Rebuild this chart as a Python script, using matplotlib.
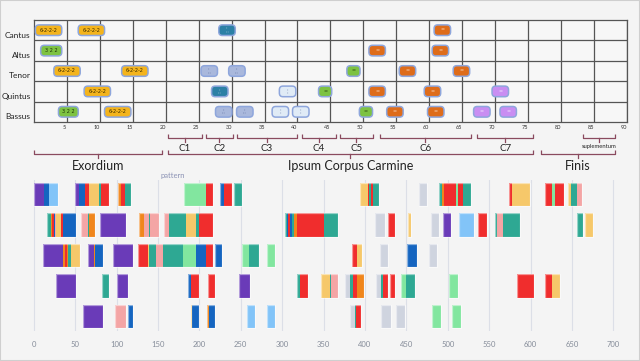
import numpy as np
import matplotlib
matplotlib.use("Agg")
import matplotlib.pyplot as plt
import matplotlib.transforms as mtrans
from matplotlib.patches import FancyBboxPatch, Rectangle

plt.rcParams["font.family"] = ["Lato", "DejaVu Sans"]

# ---- top chart: voices x measures ----
VOICES = ["Cantus", "Altus", "Tenor", "Quintus", "Bassus"]
MEAS_TICKS = list(range(5, 95, 5))

# boxes: voice row, centre measure, width, kind
BOX_ROW = [0, 0, 0, 0,
           1, 1, 1,
           2, 2, 2, 2, 2, 2, 2,
           3, 3, 3, 3, 3, 3, 3,
           4, 4, 4, 4, 4, 4, 4, 4, 4, 4, 4]
BOX_X = [2.2, 8.7, 29.3, 62.0,
         2.6, 52.1, 61.7,
         5.0, 15.3, 26.6, 30.8, 48.5, 56.7, 64.9,
         9.6, 28.2, 38.5, 44.2, 52.1, 60.5, 70.8,
         5.2, 12.7, 28.8, 32.0, 37.4, 40.5, 50.4, 54.8, 61.0, 68.0, 72.0]
BOX_W = [4, 4, 2.5, 2.5,
         3.2, 2.5, 2.5,
         4, 4, 2.5, 2.5, 2.0, 2.5, 2.5,
         4, 2.5, 2.5, 2.0, 2.5, 2.5, 2.5,
         3.0, 4, 2.5, 2.5, 2.5, 2.5, 2.0, 2.5, 2.5, 2.5, 2.5]
BOX_KIND = ["y6", "y6", "teal", "or",
            "g3", "or", "or",
            "y6", "y6", "lbg", "lbg", "gs", "or", "or",
            "y6", "teal", "vlb", "gs", "or", "or", "pu",
            "g3", "y6", "lbg", "lbg", "vlb", "vlb", "gs", "or", "or", "pu", "pu"]
KIND_STYLE = {  # face, text, text colour, size
    "y6": ("#f4b41c", "6-2-2-2", "#3a2a00", 3.6),
    "g3": ("#7dc242", "3 2 2", "#1e330a", 3.6),
    "teal": ("#2c80a5", "::\n:::", "#e6f2f8", 2.6),
    "lbg": ("#a9b8dc", "::\n:::", "#3d4f86", 2.6),
    "vlb": ("#e0ebf6", "::\n::", "#3d4f86", 2.6),
    "gs": ("#7dc242", "=", "#2d4a12", 3.5),
    "or": ("#de6c1a", "=", "#f8d8bf", 3.5),
    "pu": ("#c98ef2", "=", "#f3e6ff", 3.5),
}

# section brackets (measures)
SEC1 = [("C1", 20.3, 25.5), ("C2", 26.1, 30.2), ("C3", 30.8, 39.9), ("C4", 40.7, 45.8),
        ("C5", 46.4, 51.5), ("C6", 52.5, 66.3), ("C7", 67.3, 75.8)]
SUPL = ("suplementum", 83.4, 88.2)
SEC2 = [("Exordium", 0.0, 19.4), ("Ipsum Corpus Carmine", 20.3, 75.8), ("Finis", 77.0, 88.2)]

# ---- bottom chart: segments (start, end, colour) per row ----
ROW1 = [(0, 12, "P"), (12, 19, "B"), (19, 29, "LB"),
        (50, 55, "P"), (55, 62, "B"), (62, 67, "R"), (67, 79, "Y"), (79, 81, "T"), (81, 91, "R"),
        (102, 106, "O"), (106, 110, "R"), (110, 117.5, "T"),
        (182, 208, "G"), (208, 216, "R"),
        (225.5, 229.5, "B"), (229.5, 239.5, "R"), (241.5, 251.5, "T"),
        (393.5, 403.5, "Y"), (403.5, 405.5, "R"), (405.5, 407.5, "T"), (407.5, 409.5, "R"), (409.5, 417.5, "T"),
        (465.5, 475.5, "GR"),
        (489.5, 493.5, "T"), (493.5, 495.5, "O"), (495.5, 510, "R"), (510, 513, "G"), (513, 518, "R"), (518, 528, "T"),
        (573.5, 578, "R"), (578, 599.5, "Y"),
        (617.5, 626, "R"), (626, 630, "G"), (630, 640, "R"),
        (645.5, 649.5, "Y"), (649.5, 656, "T"), (656, 662, "PK")]
ROW2 = [(15.5, 21, "T"), (21, 22.5, "O"), (22.5, 24, "R"), (24, 25.5, "B"), (25.5, 27.5, "PK"),
        (27.5, 33.5, "Y"), (33.5, 35, "R"), (35, 51.5, "B"),
        (57.5, 65.5, "PK"), (65.5, 67, "T"), (67, 74.5, "O"),
        (79.5, 111.5, "P"),
        (127.5, 133.5, "O"), (133.5, 139, "PK"), (139, 140.5, "T"), (140.5, 151, "PK"),
        (157.5, 163.5, "PK"), (163.5, 183.5, "T"), (183.5, 195.5, "Y"), (195.5, 199.5, "T"), (199.5, 216, "R"),
        (303.5, 305.5, "T"), (305.5, 307.5, "B"), (307.5, 309.5, "R"), (309.5, 311.5, "B"), (311.5, 314.5, "T"),
        (314.5, 318.5, "O"), (318.5, 350.5, "R"), (350.5, 367, "T"),
        (412.5, 424.5, "GR"), (428, 436, "R"), (452, 456, "Y"),
        (479.5, 489.5, "GR"), (494, 503.5, "P"), (514, 532, "LB"), (537, 547, "R"),
        (557, 559.5, "T"), (559.5, 567, "PK"), (567, 587.5, "T"),
        (656.5, 663, "T"), (665.5, 676, "Y")]
ROW3 = [(11.5, 35.5, "P"), (35.5, 38, "O"), (38, 40.5, "R"), (40.5, 42, "O"), (42, 45, "T"), (45, 55.5, "Y"),
        (65.5, 72.5, "P"), (72.5, 73.5, "O"), (73.5, 83.5, "B"),
        (96, 119.5, "P"),
        (125.5, 137.5, "R"), (137.5, 139.5, "Y"), (139.5, 148, "T"), (148, 156, "PK"), (156, 180, "T"),
        (180, 195.5, "G"), (195.5, 207.5, "B"), (207.5, 216, "R"),
        (219.5, 227.5, "B"),
        (251.5, 259.5, "G"), (259.5, 271.5, "T"), (281.5, 291.5, "G"),
        (384, 390, "R"), (390, 396, "Y"),
        (418, 428, "GR"), (450.5, 462.5, "B"), (477.5, 487.5, "GR")]
ROW4 = [(27.5, 51.5, "P"), (82.5, 91.5, "T"), (100, 114, "P"),
        (186, 189.5, "B"), (189.5, 200, "R"), (210, 219.5, "R"),
        (247.5, 261.5, "P"),
        (317.5, 321.5, "T"), (321.5, 331.5, "R"),
        (347.5, 357.5, "Y"), (357.5, 359.5, "T"), (359.5, 367, "PK"),
        (375.5, 381.5, "GR"), (381.5, 385.5, "T"), (385.5, 391, "R"), (391, 399.5, "O"),
        (414, 420, "GR"), (420, 422, "T"), (422, 428, "R"), (430, 436, "R"),
        (444, 450, "G"), (450, 460, "T"),
        (502, 512, "G"), (584, 604, "R"), (617.5, 626, "R"), (626, 636, "Y")]
ROW5 = [(59.5, 83.5, "P"), (98, 111.5, "PK"), (114, 120, "B"),
        (189.5, 191.5, "Y"), (191.5, 199.5, "B"), (209.5, 211.5, "O"), (211.5, 219.5, "B"),
        (257.5, 267.5, "LB"), (281.5, 291.5, "LB"),
        (381.5, 387.5, "GR"), (387.5, 389.5, "T"), (389.5, 395.5, "R"),
        (420, 432, "GR"), (438, 448, "GR"),
        (481.5, 491.5, "G"), (505.5, 515.5, "G")]
ROWS = [ROW1, ROW2, ROW3, ROW4, ROW5]
PAL = {"P": "#6a3bb8", "B": "#1565c0", "LB": "#82c4f8", "R": "#f02d2d", "Y": "#f6c86a",
       "T": "#2ea893", "O": "#f0861c", "PK": "#f4a5a5", "G": "#82e69f", "GR": "#cfd4df"}
TIME_TICKS = list(range(0, 701, 50))

BG = "#f4f4f4"
fig = plt.figure(figsize=(6.4, 3.61), dpi=100, facecolor=BG)
fig.patches.append(Rectangle((0, 0), 1, 1, transform=fig.transFigure, fill=False, ec="#cfcfcf", lw=1.5))

# ================= top chart =================
ax = fig.add_axes([34.1/640, (361-122)/361, 592.6/640, 102/361], facecolor="#f7f7f7")
ax.set_xlim(0, 90); ax.set_ylim(5, 0)
ax.set_xticks(MEAS_TICKS); ax.set_xticklabels([str(t) for t in MEAS_TICKS])
ax.set_yticks(np.arange(len(VOICES)) + 0.5); ax.set_yticklabels(VOICES)
ax.set_yticks(np.arange(1, len(VOICES)), minor=True)
ax.tick_params(axis="x", length=0, pad=2, labelsize=4, labelcolor="#333333")
ax.tick_params(axis="y", which="both", length=0, pad=2.5, labelsize=6, labelcolor="#222222")
ax.xaxis.grid(True, color="#555555", lw=0.9)
ax.yaxis.grid(True, which="minor", color="#555555", lw=0.9)
ax.yaxis.grid(False, which="major")
ax.set_axisbelow(True)
for s in ax.spines.values(): s.set_color("#555555"); s.set_linewidth(0.9)
off_x = mtrans.ScaledTranslation(-3/100, 0, fig.dpi_scale_trans)
for lab in ax.get_xticklabels(): lab.set_transform(lab.get_transform() + off_x)
off_y = mtrans.ScaledTranslation(0, -4.5/100, fig.dpi_scale_trans)
for lab in ax.get_yticklabels(): lab.set_transform(lab.get_transform() + off_y)

asp = (102/5) / (592.6/90)  # px per row / px per measure
for r, xc, w, k in zip(BOX_ROW, BOX_X, BOX_W, BOX_KIND):
    fc, txt, tc, fs = KIND_STYLE[k]
    h = 0.52
    p = FancyBboxPatch((xc - w/2, r + 0.5 - h/2), w, h,
                       boxstyle="round,pad=0,rounding_size=0.55", mutation_aspect=1/asp,
                       fc=fc, ec="#8ea6dc", lw=1.1, zorder=3)
    ax.add_patch(p)
    ax.text(xc, r + 0.5, txt, ha="center", va="center", fontsize=fs, color=tc,
            linespacing=0.8, zorder=4, family=["DejaVu Sans"])

# brackets under the top chart
tr = mtrans.blended_transform_factory(ax.transData, ax.transAxes)
def yf(py): return (122 - py) / 102
BR_C = "#8a4a5e"
def bracket(x0, x1, top, line, tick):
    ax.plot([x0, x0, x1, x1], [yf(top), yf(line), yf(line), yf(top)], color=BR_C, lw=0.9,
            transform=tr, clip_on=False, solid_capstyle="butt")
    xm = (x0 + x1) / 2
    ax.plot([xm, xm], [yf(line), yf(tick)], color=BR_C, lw=0.9, transform=tr, clip_on=False)

for name, a, b in SEC1:
    bracket(a, b, 134, 138, 142)
    ax.text((a+b)/2, yf(148.5), name, transform=tr, ha="center", va="center", fontsize=7, color="#222222")
bracket(SUPL[1], SUPL[2], 134, 138, 142)
ax.text((SUPL[1]+SUPL[2])/2, yf(146.5), SUPL[0], transform=tr, ha="center", va="center",
        fontsize=4.2, color="#222222")
for name, a, b in SEC2:
    bracket(a, b, 150, 154, 158)
    ax.text((a+b)/2, yf(166), name, transform=tr, ha="center", va="center", fontsize=9, color="#222222")
ax.text(21, yf(175.5), "pattern", transform=tr, ha="center", va="center", fontsize=5.5, color="#8c93b5")

# ================= bottom chart =================
bx = fig.add_axes([20/640, 30/361, 610/640, 151/361], facecolor="none")
bx.set_xlim((20 - 33.7)/0.828, (630 - 33.7)/0.828)
bx.set_ylim(4.475, -0.475)
bx.set_xticks(TIME_TICKS); bx.set_yticks([])
bx.tick_params(axis="x", length=0, pad=7, labelsize=5.5, labelcolor="#858c99")
bx.xaxis.grid(True, color="#dcdfe7", lw=0.8)
bx.set_axisbelow(True)
for s in bx.spines.values(): s.set_visible(False)

H = 0.76
for i, segs in enumerate(ROWS):
    for s, e, c in segs:
        bx.barh(i, e - s, left=s, height=H, color=PAL[c], lw=0, zorder=2)
    runs = []
    for s, e, c in segs:
        if runs and s - runs[-1][1] < 0.6: runs[-1][1] = e
        else: runs.append([s, e])
    for s, e in runs:
        bx.barh(i, e - s, left=s, height=H, facecolor="none", edgecolor=(1, 1, 1, 0.5), lw=0.9, zorder=3)

fig.savefig("out.png", dpi=100, facecolor=BG)
